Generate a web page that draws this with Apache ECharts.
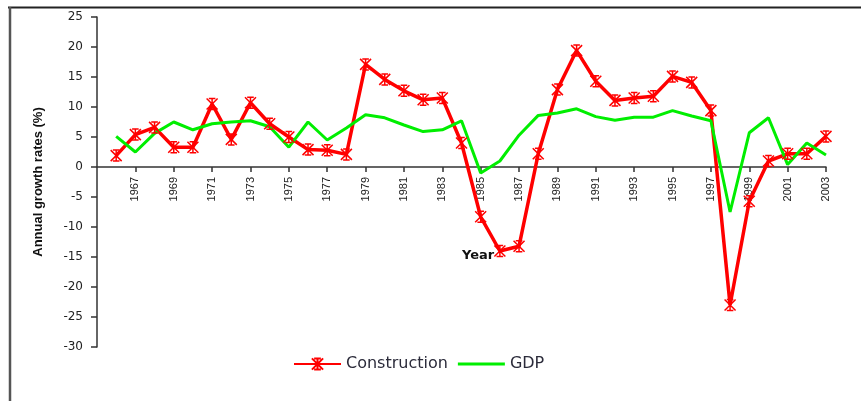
<!DOCTYPE html>
<html>
<head>
<meta charset="utf-8">
<script src="https://cdn.jsdelivr.net/npm/echarts@6/dist/echarts.min.js"></script>
<style>
    html, body { margin: 0; padding: 0; background: #fff; }
    #chart { width: 861px; height: 401px; }
</style>
</head>
<body>
<div id="chart"></div>
<script>
    // years on the x axis (1965 is the empty origin)
    var years = [];
    for (var y = 1965; y <= 2003; y++) {
        years.push(String(y));
    }

    // annual growth rates (%)
    var construction = [null, 1.9, 5.4, 6.6, 3.3, 3.3, 10.5, 4.6, 10.7, 7.2, 5.0, 2.9, 2.8, 2.1,
        17.1, 14.6, 12.7, 11.2, 11.5, 4.0, -8.3, -14.0, -13.2, 2.2, 12.9, 19.4, 14.3, 11.1,
        11.5, 11.8, 15.1, 14.1, 9.4, -23.0, -5.7, 1.0, 2.2, 2.2, 5.1];
    var gdp = [null, 5.1, 2.5, 5.6, 7.5, 6.2, 7.2, 7.5, 7.7, 6.7, 3.3, 7.5, 4.5, 6.5,
        8.7, 8.2, 7.0, 5.9, 6.2, 7.7, -1.0, 1.0, 5.3, 8.6, 9.0, 9.7, 8.4, 7.8,
        8.3, 8.3, 9.4, 8.5, 7.7, -7.5, 5.7, 8.2, 0.4, 4.0, 2.0];

    // star marker like the Excel one
    var starSymbol = 'path://M2,0L8,0M2,10L8,10M0,0L10,10M10,0L0,10M5,0L5,10';
    // plain line for the GDP legend entry
    var lineIcon = 'path://M0,0L47,0L47,3L0,3Z';

    // only odd years after 1965 get a label
    function oddYear(index, value) {
        var n = parseInt(value, 10);
        return n > 1965 && n % 2 === 1;
    }

    var chart = echarts.init(document.getElementById('chart'));

    var option = {
        animation: false,
        backgroundColor: '#fff',
        grid: {
            left: 97,
            right: 35,
            top: 17,
            bottom: 54
        },
        legend: {
            left: 288,
            top: 351,
            itemWidth: 47,
            itemHeight: 14,
            itemGap: 10,
            textStyle: {
                fontFamily: 'DejaVu Sans',
                fontSize: 16,
                color: '#2b2b3a'
            },
            data: [
                { name: 'Construction' },
                { name: 'GDP', icon: lineIcon }
            ]
        },
        xAxis: {
            type: 'category',
            data: years,
            boundaryGap: false,
            // move the axis up to the zero line (labels too)
            offset: -180,
            axisLine: {
                onZero: false,
                lineStyle: { color: '#333', width: 1.5 }
            },
            axisTick: {
                interval: oddYear,
                length: 5,
                lineStyle: { color: '#333', width: 1.5 }
            },
            axisLabel: {
                interval: oddYear,
                rotate: 90,
                margin: 10,
                fontFamily: 'Liberation Sans',
                fontSize: 11,
                color: '#222'
            },
            splitLine: { show: false }
        },
        yAxis: {
            type: 'value',
            min: -30,
            max: 25,
            interval: 5,
            name: 'Annual growth rates (%)',
            nameLocation: 'middle',
            nameGap: 52,
            nameTextStyle: {
                fontFamily: 'Liberation Sans',
                fontWeight: 'bold',
                fontSize: 13,
                color: '#111'
            },
            axisLine: {
                show: true,
                lineStyle: { color: '#333', width: 1.5 }
            },
            axisTick: {
                show: true,
                length: 6,
                lineStyle: { color: '#333', width: 1.5 }
            },
            axisLabel: {
                margin: 14,
                fontFamily: 'DejaVu Sans',
                fontSize: 12,
                color: '#222'
            },
            splitLine: { show: false }
        },
        graphic: [
            {
                type: 'text',
                left: 462,
                top: 249,
                style: {
                    text: 'Year',
                    fontFamily: 'DejaVu Sans',
                    fontWeight: 'bold',
                    fontSize: 13,
                    fill: '#111'
                }
            },
            // frame lines round the picture
            {
                type: 'line',
                shape: { x1: 8, y1: 7.5, x2: 861, y2: 7.5 },
                style: { stroke: '#222', lineWidth: 2 }
            },
            {
                type: 'line',
                shape: { x1: 10, y1: 7, x2: 10, y2: 401 },
                style: { stroke: '#555', lineWidth: 2.5 }
            }
        ],
        series: [
            {
                name: 'Construction',
                type: 'line',
                data: construction,
                symbol: starSymbol,
                symbolSize: 11,
                showSymbol: true,
                connectNulls: false,
                itemStyle: {
                    color: '#ff0000',
                    borderColor: '#ff0000',
                    borderWidth: 1.5
                },
                lineStyle: { color: '#ff0000', width: 3.5 }
            },
            {
                name: 'GDP',
                type: 'line',
                data: gdp,
                symbol: 'none',
                itemStyle: { color: '#00ee00' },
                lineStyle: { color: '#00ee00', width: 3 }
            }
        ]
    };

    chart.setOption(option);
</script>
</body>
</html>
